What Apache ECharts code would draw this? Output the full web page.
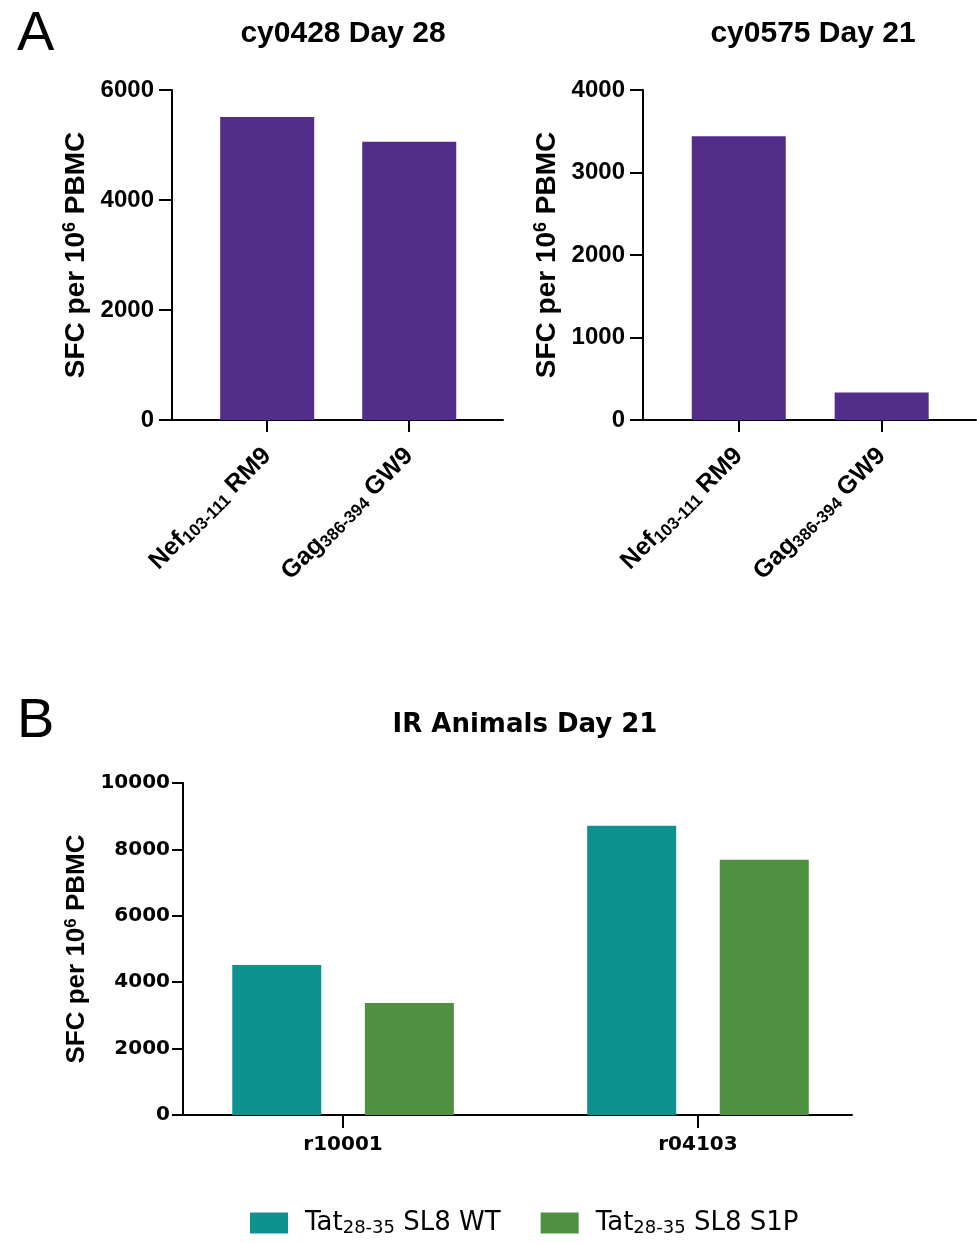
<!DOCTYPE html>
<html>
<head>
<meta charset="utf-8">
<script src="https://cdn.jsdelivr.net/npm/echarts@6/dist/echarts.min.js"></script>
<style>
  html, body { margin: 0; padding: 0; background: #ffffff; }
  #chart { width: 977px; height: 1243px; }
</style>
</head>
<body>
<div id="chart"></div>
<script>
// Epitope categories: [protein, residue range, short name]
const epitopes = [['Nef', '103-111', 'RM9'], ['Gag', '386-394', 'GW9']];
// SFC per 10^6 PBMC, panel A
const cy0428Day28 = [5510, 5060];
const cy0575Day21 = [3440, 333];
// Panel B animals and responses
const animals = ['r10001', 'r04103'];
const tatWT = [4520, 8710];
const tatS1P = [3370, 7690];
const tatNames = [['Tat', '28-35', 'SL8 WT'], ['Tat', '28-35', 'SL8 S1P']];

const PURPLE = '#532D8A';
const TEAL = '#0F9190';
const GREEN = '#4F9140';
const FA = 'Liberation Sans, Arial, sans-serif';
const FB = 'DejaVu Sans, sans-serif';

const plain = v => String(v);

const epiRich = {
  m: { fontFamily: FA, fontWeight: 'bold', fontSize: 25, color: '#000', lineHeight: 27 },
  s: { fontFamily: FA, fontWeight: 'bold', fontSize: 17, color: '#000', lineHeight: 8, verticalAlign: 'bottom' }
};
const epiLabel = e => `{m|${e[0]}}{s|${e[1]}}{m| ${e[2]}}`;

function yName(font, size, supSize) {
  return {
    text: '{m|SFC per 10}{sup|6}{m| PBMC}',
    rich: {
      m: { fontFamily: font, fontWeight: 'bold', fontSize: size, color: '#000', lineHeight: size + 2 },
      sup: { fontFamily: font, fontWeight: 'bold', fontSize: supSize, color: '#000', lineHeight: 10, verticalAlign: 'top' }
    }
  };
}

const axisLine = { show: true, onZero: false, lineStyle: { color: '#000', width: 2 } };
const tickStyle = { color: '#000', width: 2 };

function epitopeX(gridIndex) {
  return {
    gridIndex, type: 'value', min: -0.67, max: 1.66,
    splitLine: { show: false }, axisLine,
    axisTick: { show: true, customValues: [0, 1], length: 12, lineStyle: tickStyle },
    axisLabel: { show: true, customValues: [0, 1], rotate: 45, margin: 32,
      formatter: v => epiLabel(epitopes[Math.round(v)]), rich: epiRich }
  };
}

function panelAY(gridIndex, max, interval) {
  const n = yName(FA, 28, 18);
  return {
    gridIndex, type: 'value', min: 0, max, interval,
    splitLine: { show: false }, axisLine,
    axisTick: { show: true, length: 13, lineStyle: tickStyle },
    axisLabel: { fontFamily: FA, fontWeight: 'bold', fontSize: 24, color: '#000', margin: 18, formatter: plain },
    name: n.text, nameLocation: 'middle', nameGap: 81,
    nameTextStyle: { rich: n.rich }
  };
}

const bName = yName(FA, 26, 17);

const option = {
  backgroundColor: '#ffffff',
  animation: false,
  title: [
    { text: 'A', left: 12, top: 2, textStyle: { fontFamily: FA, fontWeight: 'normal', fontSize: 56, color: '#000' } },
    { text: 'cy0428 Day 28', left: 338, top: 14, textAlign: 'center',
      textStyle: { fontFamily: FA, fontWeight: 'bold', fontSize: 30, color: '#000' } },
    { text: 'cy0575 Day 21', left: 808, top: 14, textAlign: 'center',
      textStyle: { fontFamily: FA, fontWeight: 'bold', fontSize: 30, color: '#000' } },
    { text: 'B', left: 12, top: 689, textStyle: { fontFamily: FA, fontWeight: 'normal', fontSize: 56, color: '#000' } },
    { text: 'IR Animals Day 21', left: 520, top: 707, textAlign: 'center',
      textStyle: { fontFamily: FB, fontWeight: 'bold', fontSize: 26, color: '#000' } }
  ],
  grid: [
    { left: 172, top: 90, width: 331, height: 330 },
    { left: 643, top: 90, width: 333, height: 330 },
    { left: 183, top: 783, width: 669, height: 332 }
  ],
  xAxis: [
    epitopeX(0),
    epitopeX(1),
    {
      gridIndex: 2, type: 'value', min: -0.451, max: 1.434,
      splitLine: { show: false }, axisLine,
      axisTick: { show: true, customValues: [0, 1], length: 13, lineStyle: tickStyle },
      axisLabel: { show: true, customValues: [0, 1], margin: 20,
        fontFamily: FB, fontWeight: 'bold', fontSize: 20, color: '#000',
        formatter: v => animals[Math.round(v)] }
    }
  ],
  yAxis: [
    panelAY(0, 6000, 2000),
    panelAY(1, 4000, 1000),
    {
      gridIndex: 2, type: 'value', min: 0, max: 10000, interval: 2000,
      splitLine: { show: false }, axisLine,
      axisTick: { show: true, length: 11, lineStyle: tickStyle },
      axisLabel: { fontFamily: FB, fontWeight: 'bold', fontSize: 20, color: '#000', margin: 13, formatter: plain },
      name: bName.text, nameLocation: 'middle', nameGap: 86,
      nameTextStyle: { rich: bName.rich }
    }
  ],
  legend: {
    left: 245, top: 1205,
    itemWidth: 38, itemHeight: 21, itemGap: 40,
    icon: 'rect',
    data: ['WT', 'S1P'],
    formatter: name => {
      const t = tatNames[name === 'WT' ? 0 : 1];
      return `{p|${t[0]}}{s|${t[1]}}{m| ${t[2]}}`;
    },
    textStyle: {
      rich: {
        p: { fontFamily: FB, fontSize: 26, color: '#000', lineHeight: 28, padding: [0, 0, 0, 12] },
        m: { fontFamily: FB, fontSize: 26, color: '#000', lineHeight: 28 },
        s: { fontFamily: FB, fontSize: 18, color: '#000', lineHeight: 2, verticalAlign: 'bottom' }
      }
    }
  },
  series: [
    { type: 'bar', xAxisIndex: 0, yAxisIndex: 0, barWidth: 94,
      itemStyle: { color: PURPLE }, data: cy0428Day28.map((v, i) => [i, v]) },
    { type: 'bar', xAxisIndex: 1, yAxisIndex: 1, barWidth: 94,
      itemStyle: { color: PURPLE }, data: cy0575Day21.map((v, i) => [i, v]) },
    { type: 'bar', name: 'WT', xAxisIndex: 2, yAxisIndex: 2, barWidth: 89, barGap: '49%',
      itemStyle: { color: TEAL }, data: tatWT.map((v, i) => [i, v]) },
    { type: 'bar', name: 'S1P', xAxisIndex: 2, yAxisIndex: 2, barWidth: 89, barGap: '49%',
      itemStyle: { color: GREEN }, data: tatS1P.map((v, i) => [i, v]) }
  ]
};

const chart = echarts.init(document.getElementById('chart'), null, { renderer: 'canvas' });
chart.setOption(option);
</script>
</body>
</html>
